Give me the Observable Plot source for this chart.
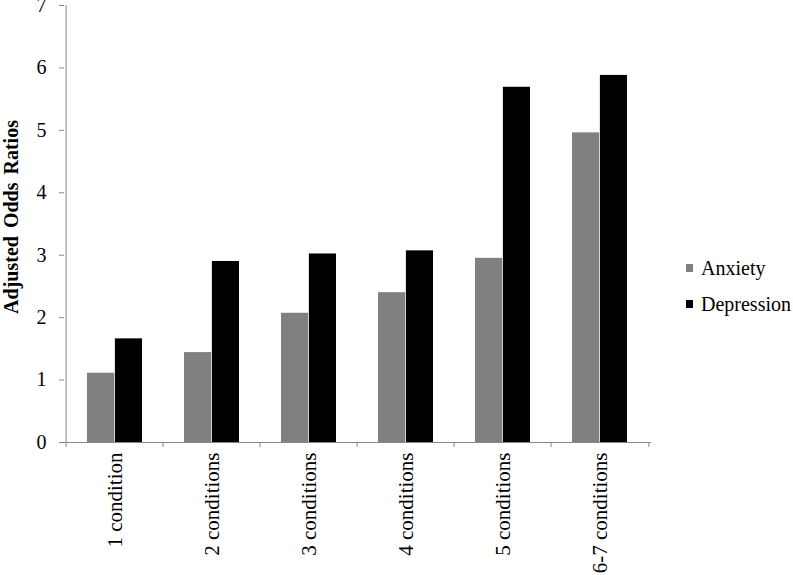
<!DOCTYPE html>
<html><head><meta charset="utf-8">
<script src="https://cdn.jsdelivr.net/npm/d3@7"></script>
<script src="https://cdn.jsdelivr.net/npm/@observablehq/plot@0.6"></script>
<style>
html,body{margin:0;padding:0;background:#fff;}
#chart{position:relative;width:793px;height:575px;overflow:hidden;}
</style></head><body><div id="chart"></div>
<script>
const categories = ["1 condition","2 conditions","3 conditions","4 conditions","5 conditions","6-7 conditions"];
const seriesNames = ["Anxiety","Depression"];
const anxiety = [1.11,1.44,2.07,2.40,2.95,4.96];
const depression = [1.66,2.90,3.02,3.07,5.69,5.88];
const yTicks = [0,1,2,3,4,5,6,7];
const yLabel = "Adjusted Odds Ratios";
const seriesColors = ["#808080","#000000"];

const table = categories.map((c,i)=>({category:c, Anxiety: anxiety[i], Depression: depression[i]}));

const W=793,H=575, mL=64, mR=142, mT=5, mB=133;
const pIn=0.43, pOut=0.215;
const step=(W-mL-mR)/(categories.length - pIn + 2*pOut);
const half=step*(1-pIn)/2;
const axisGray="#878787";
const font="Liberation Serif, Times New Roman, Times, serif";

const chart = Plot.plot({
  width:W,height:H,marginLeft:mL,marginRight:mR,marginTop:mT,marginBottom:mB,
  style:{fontFamily:font, fontSize:"20px", background:"#fff", color:"#000", overflow:"visible"},
  x:{domain:categories,paddingInner:pIn,paddingOuter:pOut,axis:null},
  y:{domain:[0,7],axis:null},
  marks:[
    Plot.barY(table,{x:"category",y:"Anxiety",fill:seriesColors[0],insetRight:half}),
    Plot.barY(table,{x:"category",y:"Depression",fill:seriesColors[1],insetLeft:half}),
    Plot.ruleY([0],{stroke:axisGray}),
    Plot.ruleX([categories[0]],{dx:-step/2,y1:0,y2:7,stroke:axisGray}),
    Plot.ruleX(categories,{dx:-step/2,y1:0,y2:0,insetBottom:-5,stroke:axisGray}),
    Plot.ruleX([categories[categories.length-1]],{dx:step/2,y1:0,y2:0,insetBottom:-5,stroke:axisGray}),
    Plot.axisY({ticks:yTicks,tickSize:5,tickPadding:13,stroke:axisGray,fill:"#000",fontSize:20,fontFamily:font,label:null,tickFormat:d=>String(d)}),
    Plot.axisX({tickRotate:-90,tickSize:0,tickPadding:10,fill:"#000",fontSize:21,fontFamily:font,label:null}),
    Plot.text([yLabel],{frameAnchor:"left",textAnchor:"middle",dx:-53,dy:-7,rotate:-90,fontWeight:"bold",fontSize:20,fontFamily:font,fill:"#000"})
  ]
});
document.getElementById("chart").appendChild(chart);

const svg = d3.select(chart);
svg.selectAll("text").filter(function(){return this.textContent===yLabel;}).style("word-spacing","3px");
const lg = svg.append("g").attr("font-family",font).attr("font-size",20).attr("fill","#000").attr("text-anchor","start");
seriesNames.forEach((s,i)=>{
  lg.append("rect").attr("x",686).attr("y",264+36*i).attr("width",7).attr("height",8).attr("fill",seriesColors[i]);
  lg.append("text").attr("x",701).attr("y",275+36*i).text(s);
});
</script></body></html>
